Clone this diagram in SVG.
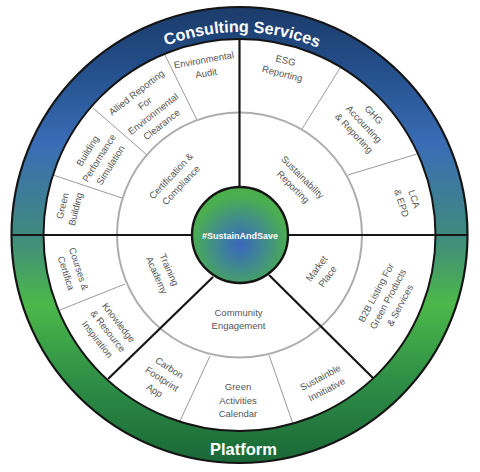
<svg xmlns="http://www.w3.org/2000/svg" width="480" height="472" viewBox="0 0 480 472">
<defs>
<style>
.t{font-family:"Liberation Sans",Arial,sans-serif;font-size:9.5px;fill:#555;text-anchor:middle}
.w{font-family:"Liberation Sans",Arial,sans-serif;font-weight:bold;fill:#fff;text-anchor:middle}
.thin{stroke:#9a9a9a;stroke-width:1;fill:none}
.blk{stroke:#161616;stroke-width:2.2;fill:none}
</style>
<linearGradient id="ringGrad" gradientUnits="userSpaceOnUse" x1="0" y1="7" x2="0" y2="464">
<stop offset="0" stop-color="#1c3b69"/>
<stop offset="0.13" stop-color="#234e89"/>
<stop offset="0.3" stop-color="#3a6db6"/>
<stop offset="0.5" stop-color="#408a7e"/>
<stop offset="0.65" stop-color="#4cb84a"/>
<stop offset="0.82" stop-color="#2e8e46"/>
<stop offset="1" stop-color="#1a6737"/>
</linearGradient>
<radialGradient id="hubGrad" cx="0.5" cy="0.6" r="0.58">
<stop offset="0" stop-color="#3a66bc"/>
<stop offset="0.45" stop-color="#418c8c"/>
<stop offset="0.85" stop-color="#4aad52"/>
<stop offset="1" stop-color="#4caf4c"/>
</radialGradient>
<path id="topArc" d="M36.5 235 A203 203 0 0 1 442.5 235"/>
</defs>
<rect width="480" height="472" fill="#fff"/>

<g id="connectors">
<line class="thin" x1="165" y1="55" x2="197" y2="120"/>
<line class="thin" x1="93" y1="108" x2="147" y2="155"/>
<line class="thin" x1="53" y1="175" x2="122" y2="198"/>
<line class="thin" x1="340" y1="68" x2="302" y2="129"/>
<line class="thin" x1="417" y1="154" x2="348" y2="175"/>
<line class="thin" x1="60" y1="310" x2="125" y2="284"/>
<line class="thin" x1="210" y1="356" x2="180" y2="421"/>
<line class="thin" x1="269" y1="355" x2="293" y2="424"/>
<circle cx="239.5" cy="235" r="122.5" fill="none" stroke="#adadad" stroke-width="2"/>
<line class="blk" x1="239.5" y1="39" x2="239.5" y2="188"/>
<line class="blk" x1="213" y1="277" x2="108" y2="379"/>
<line class="blk" x1="269" y1="275" x2="373" y2="378"/>
</g>

<g id="ring">
<path d="M11.5 235 a228 228 0 1 0 456 0 a228 228 0 1 0 -456 0 Z M43.5 235 a196 196 0 1 0 392 0 a196 196 0 1 0 -392 0 Z" fill="url(#ringGrad)" fill-rule="evenodd"/>
<circle cx="239.5" cy="235" r="228" fill="none" stroke="#151515" stroke-width="2.2"/>
<circle cx="239.5" cy="235" r="196" fill="none" stroke="#151515" stroke-width="2"/>
<line class="blk" x1="11" y1="235" x2="468" y2="235"/>
<text class="w" font-size="16.2"><textPath href="#topArc" startOffset="50.4%">Consulting Services</textPath></text>
<text class="w" font-size="16.5" x="243.5" y="455">Platform</text>
</g>

<g id="hub">
<circle cx="240" cy="235" r="48" fill="url(#hubGrad)" stroke="#151515" stroke-width="2.4"/>
<text class="w" font-size="9" x="240" y="238.5">#SustainAndSave</text>
</g>

<g id="environmental-audit" transform="translate(205,66.5) rotate(-10)"><text class="t"><tspan x="0" y="-3.4">Environmental</tspan><tspan x="0" y="10.1">Audit</tspan></text></g>
<g id="allied-reporting" transform="translate(149,108.5) rotate(-38)"><text class="t"><tspan x="0" y="-17">Allied Reporting</tspan><tspan x="0" y="-3.4">For</tspan><tspan x="0" y="10.1">Environmental</tspan><tspan x="0" y="23.6">Clearance</tspan></text></g>
<g id="building-performance" transform="translate(99,158) rotate(-58)"><text class="t"><tspan x="0" y="-10.2">Building</tspan><tspan x="0" y="3.3">Performance</tspan><tspan x="0" y="16.8">Simulation</tspan></text></g>
<g id="green-building" transform="translate(69,207.5) rotate(-76)"><text class="t"><tspan x="0" y="-3.4">Green</tspan><tspan x="0" y="10.1">Building</tspan></text></g>
<g id="certification" transform="translate(176,180.5) rotate(-47)"><text class="t"><tspan x="0" y="-3.4">Certification &amp;</tspan><tspan x="0" y="10.1">Compliance</tspan></text></g>
<g id="esg-reporting" transform="translate(284,67) rotate(14)"><text class="t"><tspan x="0" y="-3.4">ESG</tspan><tspan x="0" y="10.1">Reporting</tspan></text></g>
<g id="ghg" transform="translate(364,124) rotate(47)"><text class="t"><tspan x="0" y="-10.2">GHG</tspan><tspan x="0" y="3.3">Accounting</tspan><tspan x="0" y="16.8">&amp; Reporting</tspan></text></g>
<g id="lca" transform="translate(408,201) rotate(72)"><text class="t"><tspan x="0" y="-3.4">LCA</tspan><tspan x="0" y="10.1">&amp; EPD</tspan></text></g>
<g id="sustainability-reporting" transform="translate(298,182) rotate(45)"><text class="t"><tspan x="0" y="-3.4">Sustainability</tspan><tspan x="0" y="10.1">Reporting</tspan></text></g>
<g id="courses" transform="translate(72.5,271) rotate(72)"><text class="t"><tspan x="0" y="-3.4">Courses &amp;</tspan><tspan x="0" y="10.1">Certifica</tspan></text></g>
<g id="knowledge" transform="translate(108,331) rotate(52)"><text class="t"><tspan x="0" y="-10.2">Knowledge</tspan><tspan x="0" y="3.3">&amp; Resource</tspan><tspan x="0" y="16.8">Inspiration</tspan></text></g>
<g id="training-academy" transform="translate(163,272.5) rotate(66)"><text class="t"><tspan x="0" y="-3.4">Training</tspan><tspan x="0" y="10.1">Academy</tspan></text></g>
<g id="carbon-footprint" transform="translate(162,379) rotate(33)"><text class="t"><tspan x="0" y="-10.2">Carbon</tspan><tspan x="0" y="3.3">Footprint</tspan><tspan x="0" y="16.8">App</tspan></text></g>
<g id="green-activities" transform="translate(238,400.5)"><text class="t"><tspan x="0" y="-10.2">Green</tspan><tspan x="0" y="3.3">Activities</tspan><tspan x="0" y="16.8">Calendar</tspan></text></g>
<g id="sustainable-initiative" transform="translate(323.5,383.5) rotate(-28)"><text class="t"><tspan x="0" y="-3.4">Sustainble</tspan><tspan x="0" y="10.1">Innitiative</tspan></text></g>
<g id="market-place" transform="translate(322,272.5) rotate(-54)"><text class="t"><tspan x="0" y="-3.4">Market</tspan><tspan x="0" y="10.1">Place</tspan></text></g>
<g id="b2b-listing" transform="translate(388,299) rotate(-62)"><text class="t"><tspan x="0" y="-10.2">B2B Listing For</tspan><tspan x="0" y="3.3">Green Products</tspan><tspan x="0" y="16.8">&amp; Services</tspan></text></g>
<g id="community-engagement" transform="translate(238.5,319)"><text class="t"><tspan x="0" y="-3.4">Community</tspan><tspan x="0" y="10.1">Engagement</tspan></text></g>
</svg>
